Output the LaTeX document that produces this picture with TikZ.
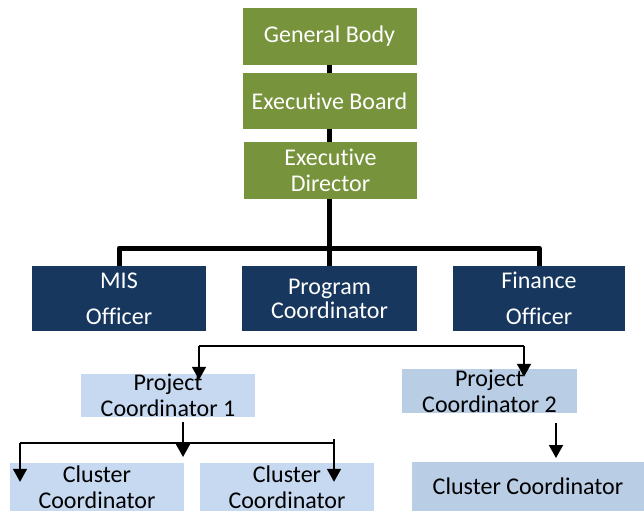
\documentclass[tikz,border=0pt]{standalone}
\usepackage{fontspec}
\setmainfont[Ligatures=NoCommon]{Carlito}
\usetikzlibrary{arrows.meta}
\definecolor{boardgreen}{HTML}{77933C}
\definecolor{staffblue}{HTML}{17375E}
\definecolor{projblue}{HTML}{C6D9F1}
\definecolor{projblueB}{HTML}{B9CDE5}
\begin{document}
\begin{tikzpicture}[x=1pt,y=-1pt,
  box/.style={rectangle, inner sep=0pt, align=center, font=\fontsize{24}{26}\selectfont},
  gov/.style={box, fill=boardgreen, text=white},
  staff/.style={box, fill=staffblue, text=white},
  proj/.style={box, fill=projblue, text=black},
  projB/.style={box, fill=projblueB, text=black},
  spine/.style={line width=5pt, line join=round, line cap=butt},
  link/.style={line width=1.8pt},
  arrow/.style={line width=1.8pt, -{Triangle[length=13pt,width=14pt]}}]
\useasboundingbox (0,0) rectangle (644,511);

% governance chain
\node[gov, minimum width=174pt, minimum height=57pt] (gb) at (329.5,36.5) {General Body};
\node[gov, minimum width=174pt, minimum height=56pt] (eb) at (329.5,101) {Executive Board};
\node[gov, minimum width=173pt, minimum height=57pt] (ed) at (330.5,170.5) {Executive\\Director};

% staff row
\node[staff, minimum width=174pt, minimum height=65pt, font=\fontsize{24}{36}\selectfont] (mis) at (119,298.5) {MIS\\Officer};
\node[staff, minimum width=175pt, minimum height=65pt, font=\fontsize{24}{24}\selectfont] (prog) at (329.5,298.5) {Program\\Coordinator};
\node[staff, minimum width=172pt, minimum height=65pt, font=\fontsize{24}{36}\selectfont] (fin) at (539,298.5) {Finance\\Officer};

% projects
\node[proj, minimum width=174pt, minimum height=43pt] (pc1) at (168,395.5) {Project\\Coordinator 1};
\node[projB, minimum width=175pt, minimum height=44pt] (pc2) at (489.5,391) {Project\\Coordinator 2};

% clusters
\node[proj, minimum width=174pt, minimum height=48pt] (cc1) at (97,487) {Cluster\\Coordinator};
\node[proj, minimum width=174pt, minimum height=48pt] (cc2) at (287,487) {Cluster\\Coordinator};
\node[projB, minimum width=232pt, minimum height=49pt] (cc3) at (528,486.5) {Cluster Coordinator};

% governance spine and staff bus
\coordinate (bus) at (329.5,248);
\draw[spine] (gb) -- (eb);
\draw[spine] (eb) -- (ed.north -| eb);
\draw[spine] (ed.south -| eb) -- (prog);
\draw[spine] (mis.north) |- (bus) -| (fin.north);

% project branch
\coordinate (h1) at (199,346);
\coordinate (h2) at (524,346);
\draw[link] (h1) -- (h2);
\draw[arrow] (h1) -- ([yshift=-6pt]pc1.north -| h1);
\draw[arrow] (h2) -- ([yshift=-8pt]pc2.north -| h2);

% cluster branch of project 1
\coordinate (d1) at (183,422);
\coordinate (d1e) at (183,457);
\draw[arrow] (d1) -- (d1e);
\coordinate (b1) at (20,443);
\coordinate (b2) at (334,443);
\draw[link] (b1) -- (b2);
\draw[arrow] (b1) -- ([yshift=-19pt]cc1.north -| b1);
\draw[arrow] ([yshift=4pt]b2) -- ([yshift=-19pt]cc2.north -| b2);

% cluster of project 2
\coordinate (d2) at (556,423);
\coordinate (d2e) at (556,458);
\draw[arrow] (d2) -- (d2e);
\end{tikzpicture}
\end{document}
